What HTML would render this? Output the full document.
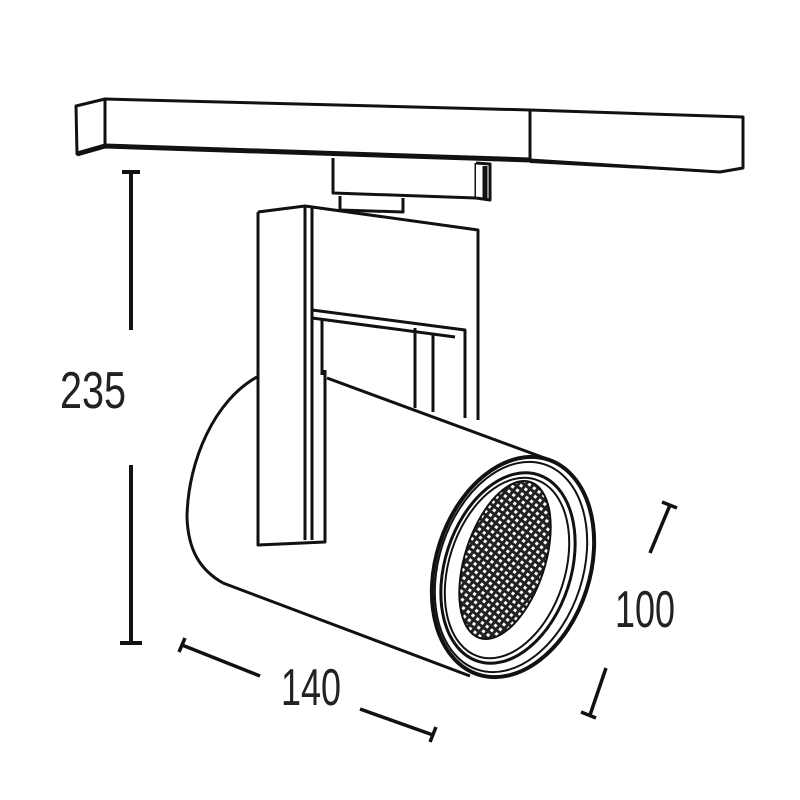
<!DOCTYPE html>
<html><head><meta charset="utf-8"><style>
html,body{margin:0;padding:0;background:#fff;width:800px;height:800px;overflow:hidden}
text{font-family:"Liberation Sans",sans-serif;fill:#222}
</style></head><body>
<svg width="800" height="800" viewBox="0 0 800 800" xmlns="http://www.w3.org/2000/svg">
<defs>
<pattern id="grid" width="6" height="6" patternUnits="userSpaceOnUse" patternTransform="rotate(20)">
<rect width="6" height="6" fill="#222"/>
<rect x="1.5" y="1.5" width="3" height="3" fill="#fff"/>
</pattern>
</defs>
<g fill="none" stroke="#111" stroke-width="3" stroke-linejoin="round">
<!-- track -->
<polygon points="76,106 105,99 105,146 77,154" fill="#fff"/>
<polygon points="105,99 530,110 743,117 743,168 720,172 530,160 105,146" fill="#fff"/>
<line x1="530" y1="110" x2="530" y2="160"/>
<path d="M77,154 L105,146 L530,160" stroke-width="5"/>
<path d="M530,162 L720,172" stroke-width="2"/>
<!-- adapter -->
<path d="M333,158 L333,193 L476,198 L476,163" fill="#fff"/>
<path d="M476,163 L490,164 L490,200 L476,198" fill="#fff"/>
<line x1="485" y1="166" x2="485" y2="198" stroke-width="5"/>
<path d="M340,196 L340,210 L403,212 L403,198"/>
<!-- arm -->
<path d="M258,212 L305,206 L478,230 L478,420 M258,212 L258,545 L325,542 L325,370 M305,206 L305,540 M312,206 L312,540"/>
<path d="M312,310 L465,330 L465,418" />
<path d="M312,318 L455,337"/>
<line x1="322" y1="318" x2="322" y2="375"/>
<line x1="415" y1="328" x2="415" y2="408"/>
<line x1="433" y1="333" x2="433" y2="412"/>
<!-- cylinder -->
<path d="M327,378 L550,460"/>
<path d="M223,583 L470,676"/>
<path d="M257,377 C215,400 188,460 187,517 C188,550 200,570 223,583"/>
<!-- front rings -->
<ellipse cx="513" cy="567" rx="77" ry="113" transform="rotate(18 513 567)" fill="#fff" stroke-width="4"/>
<ellipse cx="511" cy="567" rx="72" ry="108" transform="rotate(18 511 567)" stroke-width="2"/>
<ellipse cx="508" cy="568" rx="63" ry="98" transform="rotate(18 508 568)" stroke-width="3"/>
<ellipse cx="507" cy="568" rx="58" ry="93" transform="rotate(18 507 568)" stroke-width="2"/>
<ellipse cx="505" cy="560" rx="40" ry="82" transform="rotate(18 505 560)" fill="url(#grid)" stroke-width="2"/>
<!-- dimensions -->
<path d="M131,172 L131,330 M122,172 L140,172 M131,465 L131,643 M120,643 L142,643" stroke-width="4"/>
<path d="M182,645 L260,676 M179,652 L185,638 M360,709 L433,735 M430,742 L436,727" stroke-width="3.5"/>
<path d="M670,505 L650,553 M662,502 L677,508 M606,668 L590,715 M581,712 L596,718" stroke-width="3.5"/>
</g>
<text x="60" y="408" font-size="52" textLength="66" lengthAdjust="spacingAndGlyphs">235</text>
<text x="281" y="705" font-size="52" textLength="60" lengthAdjust="spacingAndGlyphs">140</text>
<text x="615" y="627" font-size="52" textLength="60" lengthAdjust="spacingAndGlyphs">100</text>
</svg>
</body></html>
